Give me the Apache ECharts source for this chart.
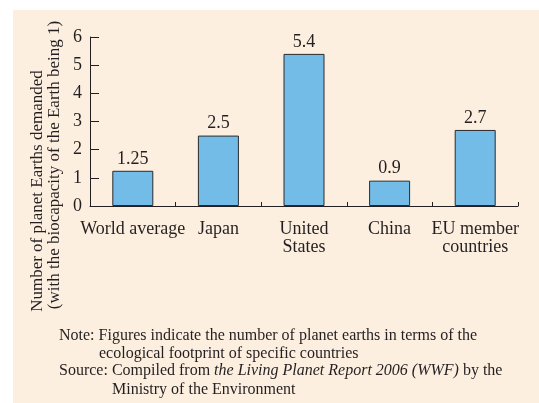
<!DOCTYPE html>
<html>
<head>
<meta charset="utf-8">
<script src="https://cdn.jsdelivr.net/npm/echarts@6/dist/echarts.min.js"></script>
<style>
  html, body { margin: 0; padding: 0; background: #ffffff; }
  #chart { width: 539px; height: 403px; }
</style>
</head>
<body>
<div id="chart"></div>
<script>
// Ecological footprint by country, in planet Earths
var categories = ['World average', 'Japan', 'United\nStates', 'China', 'EU member\ncountries'];
var values = [1.25, 2.5, 5.4, 0.9, 2.7];
var yTicks = [0, 1, 2, 3, 4, 5, 6];
var yNameLines = ['Number of planet Earths demanded', '(with the biocapacity of the Earth being 1)'];
var noteLines = [
  'Note: Figures indicate the number of planet earths in terms of the',
  'ecological footprint of specific countries',
  'Source: Compiled from {i|the Living Planet Report 2006 (WWF)} by the',
  'Ministry of the Environment'
];

var FONT = '"Liberation Serif", "Times New Roman", serif';
var INK = '#231f20';

var chart = echarts.init(document.getElementById('chart'), null, { renderer: 'canvas' });

chart.setOption({
  animation: false,
  backgroundColor: '#ffffff',
  grid: { left: 90, right: 21, top: 37, bottom: 197, containLabel: false },
  graphic: [
    { type: 'rect', z: -10, silent: true,
      shape: { x: 13, y: 10, width: 526, height: 393 },
      style: { fill: '#fdefe0' } },
    { type: 'text', rotation: Math.PI / 2, x: 38, y: 191,
      style: { text: yNameLines[0], font: '17px ' + FONT, fill: INK,
               textAlign: 'center', textVerticalAlign: 'middle' } },
    { type: 'text', rotation: Math.PI / 2, x: 55, y: 165,
      style: { text: yNameLines[1], font: '17px ' + FONT, fill: INK,
               textAlign: 'center', textVerticalAlign: 'middle' } },
    { type: 'text', x: 59, y: 335.5,
      style: { text: noteLines[0], font: '16px ' + FONT, fill: INK,
               textAlign: 'left', textVerticalAlign: 'middle' } },
    { type: 'text', x: 99, y: 353.5,
      style: { text: noteLines[1], font: '16px ' + FONT, fill: INK,
               textAlign: 'left', textVerticalAlign: 'middle' } },
    { type: 'text', x: 59, y: 371,
      style: { text: noteLines[2], font: '16px ' + FONT, fill: INK,
               textAlign: 'left', textVerticalAlign: 'middle',
               rich: { i: { fontStyle: 'italic', fontFamily: FONT, fontSize: 16, fill: INK } } } },
    { type: 'text', x: 112, y: 389.5,
      style: { text: noteLines[3], font: '16px ' + FONT, fill: INK,
               textAlign: 'left', textVerticalAlign: 'middle' } }
  ],
  xAxis: {
    type: 'category',
    data: categories,
    boundaryGap: true,
    axisLine: { show: true, lineStyle: { color: INK, width: 1 } },
    axisTick: { show: true, inside: true, length: 4, alignWithLabel: false,
                lineStyle: { color: INK, width: 1 } },
    axisLabel: { color: INK, fontFamily: FONT, fontSize: 18, lineHeight: 18,
                 margin: 14, interval: 0, align: 'center' },
    splitLine: { show: false }
  },
  yAxis: {
    type: 'value',
    min: yTicks[0],
    max: yTicks[yTicks.length - 1],
    interval: 1,
    axisLine: { show: true, lineStyle: { color: INK, width: 1 } },
    axisTick: { show: true, inside: true, length: 9, lineStyle: { color: INK, width: 1 } },
    axisLabel: { color: INK, fontFamily: FONT, fontSize: 18, margin: 8 },
    splitLine: { show: false }
  },
  series: [{
    type: 'bar',
    data: values,
    barWidth: 41,
    itemStyle: { color: '#74bce8', borderColor: '#2a2a2a', borderWidth: 1 },
    label: {
      show: true, position: 'top', distance: 3,
      color: INK, fontFamily: FONT, fontSize: 18,
      formatter: function (p) { return String(p.value); }
    }
  }]
});
</script>
</body>
</html>
